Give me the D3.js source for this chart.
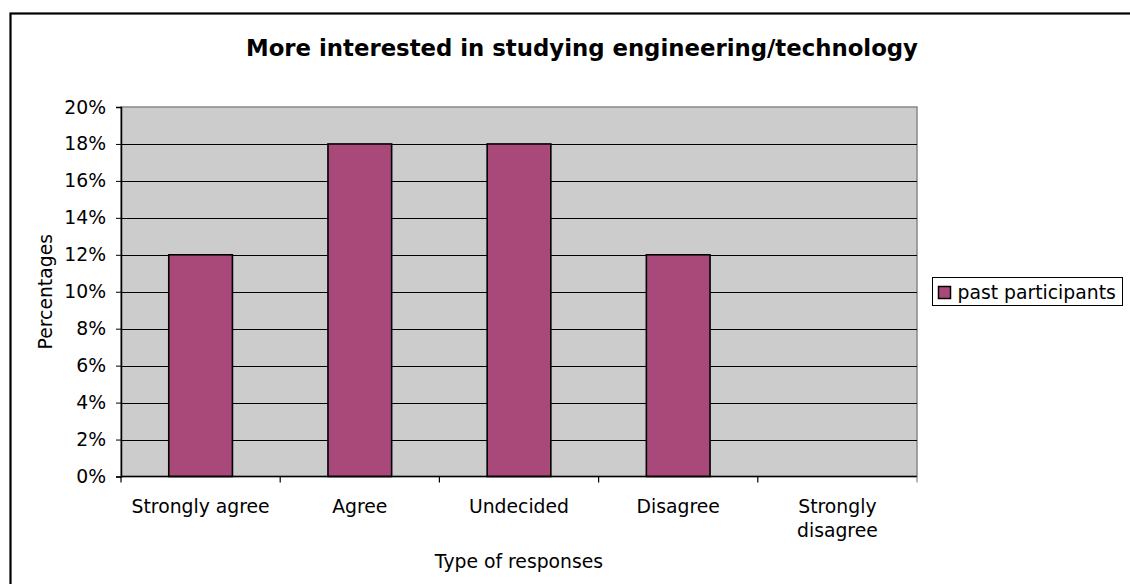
<!DOCTYPE html>
<html>
<head>
<meta charset="utf-8">
<script src="https://cdn.jsdelivr.net/npm/d3@7"></script>
<style>
	html, body { margin: 0; padding: 0; background: #fff; }
	svg { display: block; font-family: 'DejaVu Sans', Verdana, sans-serif; }
</style>
</head>
<body>
<svg id="chart" width="1130" height="584"></svg>
<script>
const categories = ['Strongly agree', 'Agree', 'Undecided', 'Disagree', 'Strongly disagree']
const pastParticipants = [0.12, 0.18, 0.18, 0.12, 0]
const yTicks = [0, 0.02, 0.04, 0.06, 0.08, 0.10, 0.12, 0.14, 0.16, 0.18, 0.20]
const seriesName = 'past participants'
const title = 'More interested in studying engineering/technology'

const fontSize = 18.8
const barColor = '#a8497a'

const plot = { left: 121, top: 107, right: 917, bottom: 476.5 }

const svg = d3.select('#chart')

// outer chart frame (runs off the right and bottom)
svg.append('rect')
	.attr('x', 10.5).attr('y', 13.5)
	.attr('width', 1200).attr('height', 700)
	.attr('fill', '#fff')
	.attr('stroke', '#000')
	.attr('stroke-width', 2.2)

const xCat = d3.scaleBand()
	.domain(categories)
	.range([plot.left, plot.right])

const xBar = d3.scaleBand()
	.domain(categories)
	.range([plot.left, plot.right])
	.paddingInner(0.6)
	.paddingOuter(0.3)

const y = d3.scaleLinear()
	.domain([0, 0.2])
	.range([plot.bottom, plot.top])

// plot background
svg.append('rect')
	.attr('x', plot.left).attr('y', plot.top)
	.attr('width', plot.right - plot.left)
	.attr('height', plot.bottom - plot.top)
	.attr('fill', '#cccccc')
	.attr('stroke', '#888')
	.attr('stroke-width', 1.5)

// gridlines
svg.append('g')
	.selectAll('line')
	.data(yTicks.filter((t) => t > 0 && t < 0.2))
	.join('line')
		.attr('x1', plot.left).attr('x2', plot.right)
		.attr('y1', (d) => Math.round(y(d)) + 0.5)
		.attr('y2', (d) => Math.round(y(d)) + 0.5)
		.attr('stroke', '#000')
		.attr('stroke-width', 1)

// bars
svg.append('g')
	.selectAll('rect')
	.data(pastParticipants.map((v, i) => ({ cat: categories[i], v })))
	.join('rect')
		.attr('x', (d) => xBar(d.cat))
		.attr('y', (d) => y(d.v))
		.attr('width', xBar.bandwidth())
		.attr('height', (d) => y(0) - y(d.v))
		.attr('fill', barColor)
		.attr('stroke', '#000')
		.attr('stroke-width', 1.6)

// y axis
const yAxis = svg.append('g')
	.attr('transform', `translate(${plot.left},0)`)
	.call(d3.axisLeft(y)
		.tickValues(yTicks)
		.tickFormat(d3.format('.0%'))
		.tickSize(5)
		.tickPadding(10))
yAxis.select('.domain').attr('stroke', '#000').attr('stroke-width', 1.5)
yAxis.selectAll('.tick line').attr('stroke', '#000')
yAxis.selectAll('text')
	.attr('font-size', fontSize)
	.attr('font-family', "'DejaVu Sans', Verdana, sans-serif")
	.attr('fill', '#000')

// x axis, ticks between categories
const xAxis = svg.append('g')
	.attr('transform', `translate(0,${plot.bottom})`)
xAxis.append('line')
	.attr('x1', plot.left).attr('x2', plot.right)
	.attr('stroke', '#000').attr('stroke-width', 1.5)
xAxis.selectAll('.tick')
	.data(categories.concat(['end']))
	.join('line')
		.attr('class', 'tick')
		.attr('x1', (d, i) => plot.left + i * xCat.step())
		.attr('x2', (d, i) => plot.left + i * xCat.step())
		.attr('y1', 0).attr('y2', 6)
		.attr('stroke', (d, i) => i === categories.length ? '#888' : '#000')
		.attr('stroke-width', 1.2)

const xLabels = xAxis.selectAll('.xlabel')
	.data(categories)
	.join('text')
		.attr('class', 'xlabel')
		.attr('x', (d) => xCat(d) + xCat.bandwidth() / 2)
		.attr('y', 36)
		.attr('text-anchor', 'middle')
		.attr('font-size', fontSize)
		.attr('fill', '#000')

xLabels.each(function (d) {
	const words = d === 'Strongly disagree' ? ['Strongly', 'disagree'] : [d]
	d3.select(this).selectAll('tspan')
		.data(words)
		.join('tspan')
			.attr('x', xCat(d) + xCat.bandwidth() / 2)
			.attr('dy', (w, i) => i === 0 ? 0 : 24)
			.text((w) => w)
})

// axis titles
svg.append('text')
	.attr('x', (plot.left + plot.right) / 2)
	.attr('y', 568)
	.attr('text-anchor', 'middle')
	.attr('font-size', fontSize)
	.text('Type of responses')

svg.append('text')
	.attr('transform', `translate(52,${(plot.top + plot.bottom) / 2}) rotate(-90)`)
	.attr('text-anchor', 'middle')
	.attr('font-size', fontSize)
	.text('Percentages')

// chart title
svg.append('text')
	.attr('x', 582)
	.attr('y', 56)
	.attr('text-anchor', 'middle')
	.attr('font-size', 22.8)
	.attr('font-weight', 'bold')
	.text(title)

// legend
const legend = svg.append('g').attr('transform', 'translate(932.5,277.5)')
legend.append('rect')
	.attr('width', 190).attr('height', 28)
	.attr('fill', '#fff')
	.attr('stroke', '#000')
	.attr('stroke-width', 1)
legend.append('rect')
	.attr('x', 6).attr('y', 9)
	.attr('width', 12).attr('height', 12)
	.attr('fill', barColor)
	.attr('stroke', '#000')
	.attr('stroke-width', 1.5)
legend.append('text')
	.attr('x', 25).attr('y', 21.5)
	.attr('font-size', fontSize)
	.text(seriesName)
</script>
</body>
</html>
